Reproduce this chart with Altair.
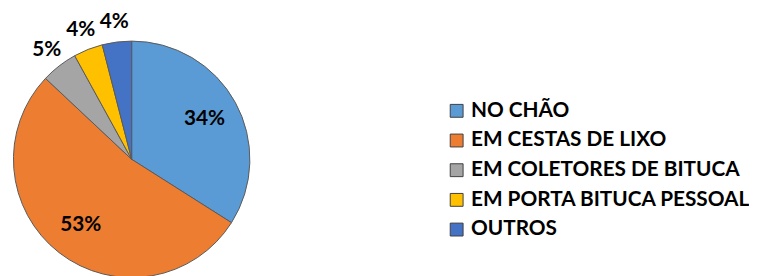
import altair as alt
import pandas as pd

categories = ["NO CHÃO", "EM CESTAS DE LIXO", "EM COLETORES DE BITUCA", "EM PORTA BITUCA PESSOAL", "OUTROS"]
values = [34, 53, 5, 4, 4]
labels = ["34%", "53%", "5%", "4%", "4%"]
inside = [True, True, False, False, False]
colors = ["#5B9BD5", "#ED7D31", "#A5A5A5", "#FFC000", "#4472C4"]

df = pd.DataFrame({
    "cat": categories,
    "value": values,
    "label": labels,
    "inside": inside,
    "order": list(range(len(categories))),
})

CX, CY, R = 125, 151.5, 119.5

color = alt.Color(
    "cat:N",
    sort=categories,
    scale=alt.Scale(domain=categories, range=colors),
    legend=alt.Legend(
        title=None,
        orient="none",
        legendX=443,
        legendY=92,
        symbolType="square",
        symbolSize=169,
        symbolStrokeColor="#404040",
        symbolStrokeWidth=1,
        symbolOpacity=1,
        labelFont="Lato",
        labelFontSize=21,
        labelFontWeight="bold",
        labelColor="#000000",
        labelOffset=4,
        rowPadding=8,
        labelLimit=400,
    ),
)

pie = alt.Chart(df).mark_arc(outerRadius=R, stroke="#5a5a5a", strokeWidth=1).encode(
    theta=alt.Theta("value:Q", stack=True),
    order=alt.Order("order:Q"),
    color=color,
    x=alt.value(CX),
    y=alt.value(CY),
)

txt = alt.Chart(df).transform_window(
    cum="sum(value)", sort=[alt.SortField("order")], frame=[None, 0]
).transform_calculate(
    mid="datum.cum - datum.value / 2",
    r="datum.inside ? 84 : 140",
).mark_text(
    font="Lato", fontSize=21, fontWeight="bold", color="#000000"
).encode(
    theta=alt.Theta("mid:Q", stack=None),
    text="label:N",
    radius=alt.Radius("r:Q", scale=None),
    x=alt.value(CX),
    y=alt.value(CY),
)

chart = alt.layer(pie, txt).properties(
    width=749, height=268, autosize=alt.AutoSizeParams(type="none"), padding=0,
    background="#ffffff",
).configure_view(stroke=None)

chart.save("out.html", embed_options={"renderer": "svg", "actions": False})
